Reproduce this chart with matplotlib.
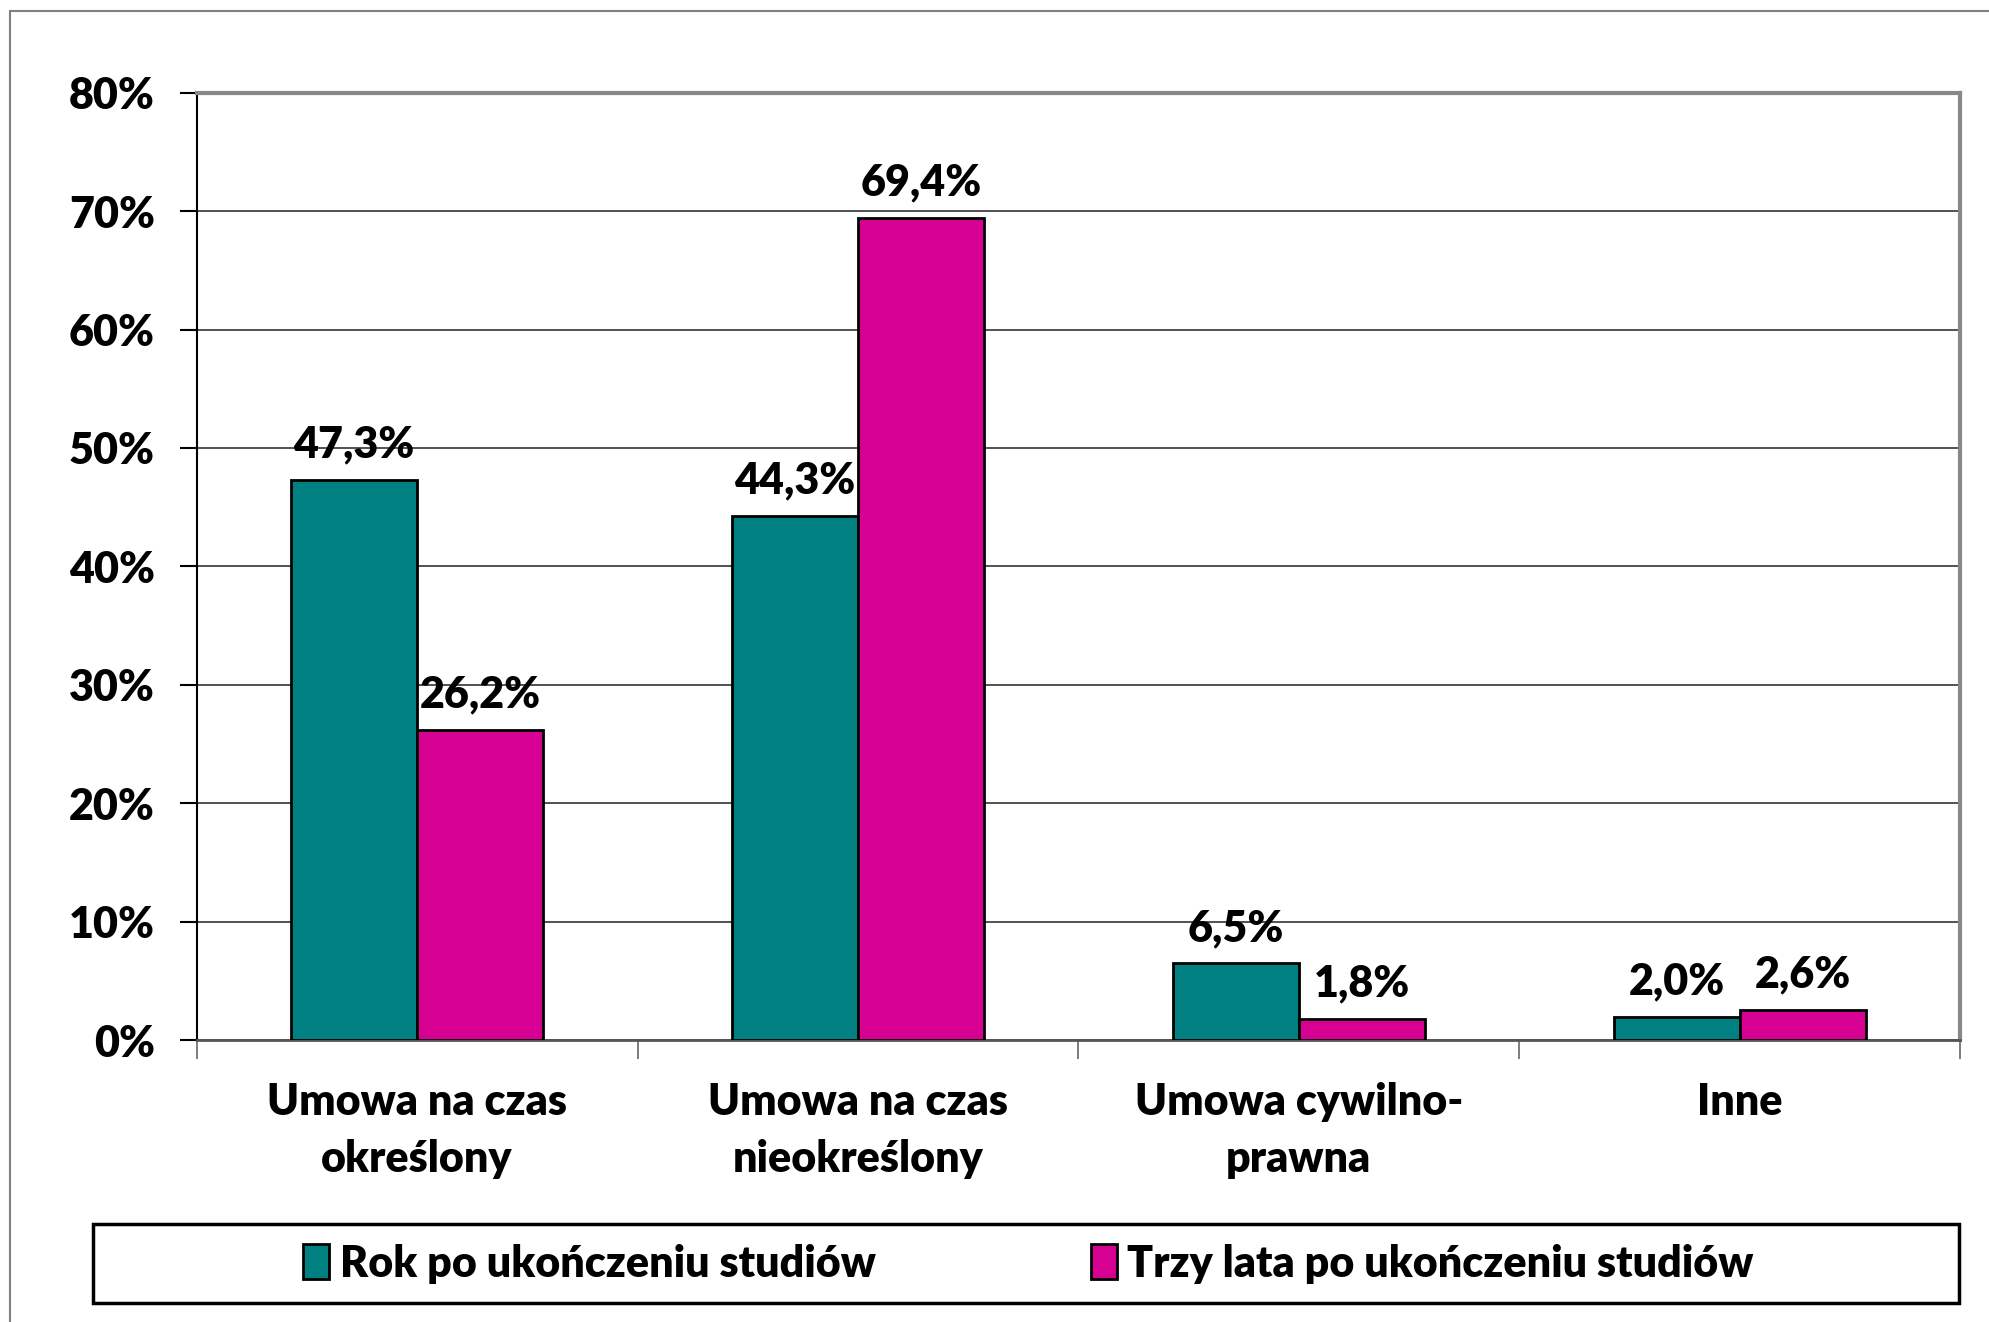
import matplotlib.pyplot as plt
import numpy as np
from matplotlib.patches import Rectangle

categories = ["Umowa na czas\nokreślony", "Umowa na czas\nnieokreślony",
              "Umowa cywilno-\nprawna", "Inne"]
series_names = ["Rok po ukończeniu studiów", "Trzy lata po ukończeniu studiów"]
rok_po = [47.3, 44.3, 6.5, 2.0]
trzy_lata = [26.2, 69.4, 1.8, 2.6]
y_ticks = [0, 10, 20, 30, 40, 50, 60, 70, 80]

colors = ["#008080", "#D60093"]
FS = 31
WEIGHT = "heavy"

plt.rcParams["font.family"] = ["Lato", "DejaVu Sans"]
plt.rcParams["font.weight"] = WEIGHT

fig = plt.figure(figsize=(19.89, 13.22), dpi=100)
ax = fig.add_axes([0.0989, 0.213, 0.8865, 0.717])

x = np.arange(len(categories))
width = 1 / 3.5

for i, (vals, name) in enumerate(zip([rok_po, trzy_lata], series_names)):
    b = ax.bar(x + (i - 0.5) * width, vals, width, color=colors[i],
               edgecolor="black", linewidth=2, label=name, zorder=3)
    for rect, v in zip(b, vals):
        ax.annotate(f"{v:.1f}%".replace(".", ","),
                    (rect.get_x() + rect.get_width() / 2, rect.get_height()),
                    xytext=(0, 11), textcoords="offset points",
                    ha="center", va="bottom", fontsize=FS, fontweight=WEIGHT)

ax.set_xlim(-0.5, len(categories) - 0.5)
ax.set_ylim(0, 80)
ax.set_yticks(y_ticks)
ax.set_yticklabels([f"{t}%" for t in y_ticks], fontsize=FS, fontweight=WEIGHT)
ax.yaxis.grid(True, color="#333333", linewidth=1.2, zorder=0)

ax.set_xticks(x)
ax.set_xticklabels(categories, fontsize=FS, fontweight=WEIGHT, linespacing=1.5)
ax.tick_params(axis="x", length=0, pad=30)
ax.set_xticks(np.arange(len(categories) + 1) - 0.5, minor=True)
ax.tick_params(axis="x", which="minor", length=14, width=1.2, color="#666666")
ax.tick_params(axis="y", length=12, width=1.5, pad=18)

ax.spines["left"].set_color("black")
ax.spines["left"].set_linewidth(1.5)
ax.spines["bottom"].set_color("#555555")
ax.spines["bottom"].set_linewidth(2)
for s in ["top", "right"]:
    ax.spines[s].set_color("#888888")
    ax.spines[s].set_linewidth(3)

# legend box
fig.patches.append(Rectangle((0.0466, 0.0144), 0.9384, 0.0595,
                             transform=fig.transFigure, fill=False,
                             edgecolor="black", linewidth=2.5))
fig.legend(loc="center", bbox_to_anchor=(0.517, 0.0442), ncol=2,
           frameon=False, fontsize=FS, handlelength=0.6, handleheight=0.85,
           handletextpad=0.25, columnspacing=5.0)

# outer chart border
fig.patches.append(Rectangle((0.005, -0.02), 1.2, 1.012,
                             transform=fig.transFigure, fill=False,
                             edgecolor="#808080", linewidth=1.5))

fig.savefig("out.png", dpi=100)
